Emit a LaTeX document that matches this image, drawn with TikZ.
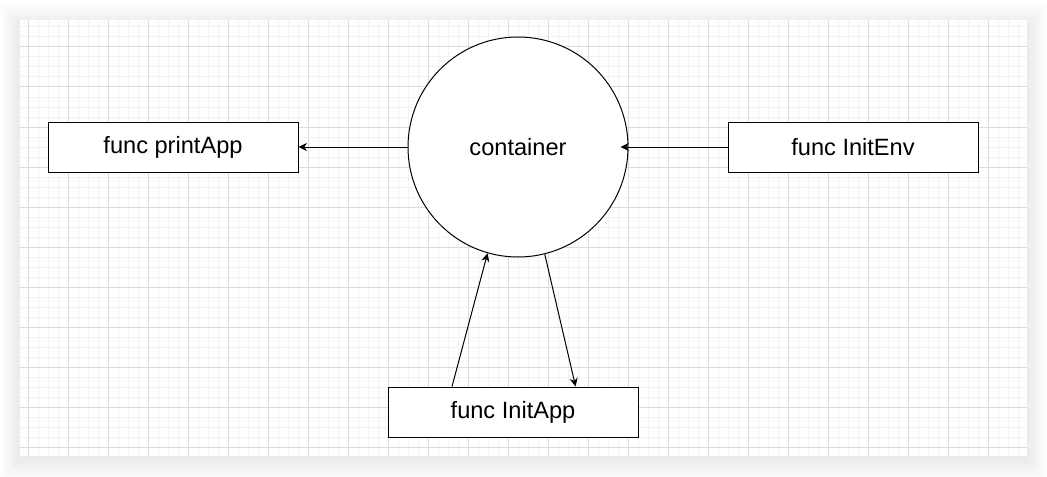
\documentclass[tikz,border=0pt]{standalone}
\usepackage{fontspec}
\setmainfont{Liberation Sans}
\usetikzlibrary{arrows.meta}
\definecolor{minorgrid}{HTML}{F3F3F3}
\definecolor{majorgrid}{HTML}{DCDCDC}
\tikzset{
  box/.style={draw=black, line width=0.5pt, fill=white, minimum width=125pt, minimum height=25pt, inner sep=0pt, font=\fontsize{11.8}{14}\selectfont},
  bigcircle/.style={draw=black, line width=0.5pt, fill=white, circle, minimum size=110pt, inner sep=0pt, font=\fontsize{11.8}{14}\selectfont},
  arr/.style={draw=black, line width=0.5pt, -{Stealth[length=4.2pt,width=4pt,inset=1.3pt]}},
}
\begin{document}
\begin{tikzpicture}[x=0.5pt,y=-0.5pt]
\useasboundingbox (0,0) rectangle (1047,476);
\fill[white] (0,0) rectangle (1047,476);
% shadow
\foreach \i in {1,...,20}{
  \fill[black, opacity=0.005] (20-\i,20-\i+4) rectangle (1027+\i,456+\i+4);
}
\fill[white] (20,20) rectangle (1027,456);
% grid
\foreach \x in {28,38,...,1018}{ \draw[minorgrid, line width=0.5pt] (\x,20) -- (\x,456); }
\foreach \y in {27,37,...,447}{ \draw[minorgrid, line width=0.5pt] (20,\y) -- (1027,\y); }
\foreach \x in {28,68,...,1018}{ \draw[majorgrid, line width=0.5pt] (\x,20) -- (\x,456); }
\foreach \y in {47,87,...,447}{ \draw[majorgrid, line width=0.5pt] (20,\y) -- (1027,\y); }
% nodes
\node[bigcircle] (c) at (518,147) {container};
\node[box] (papp) at (173,147) {func printApp};
\node[box] (ienv) at (853,147) {func InitEnv};
\node[box] (iapp) at (513,412) {func InitApp};
% connectors
\draw[arr] (c.west) -- (papp.east);
\draw[arr] (ienv.west) -- ([xshift=-4pt]c.east);
\draw[arr] ([xshift=-30.5pt]iapp.north) -- (c.254);
\draw[arr] (c.284) -- ([xshift=31.3pt]iapp.north);
\end{tikzpicture}
\end{document}
